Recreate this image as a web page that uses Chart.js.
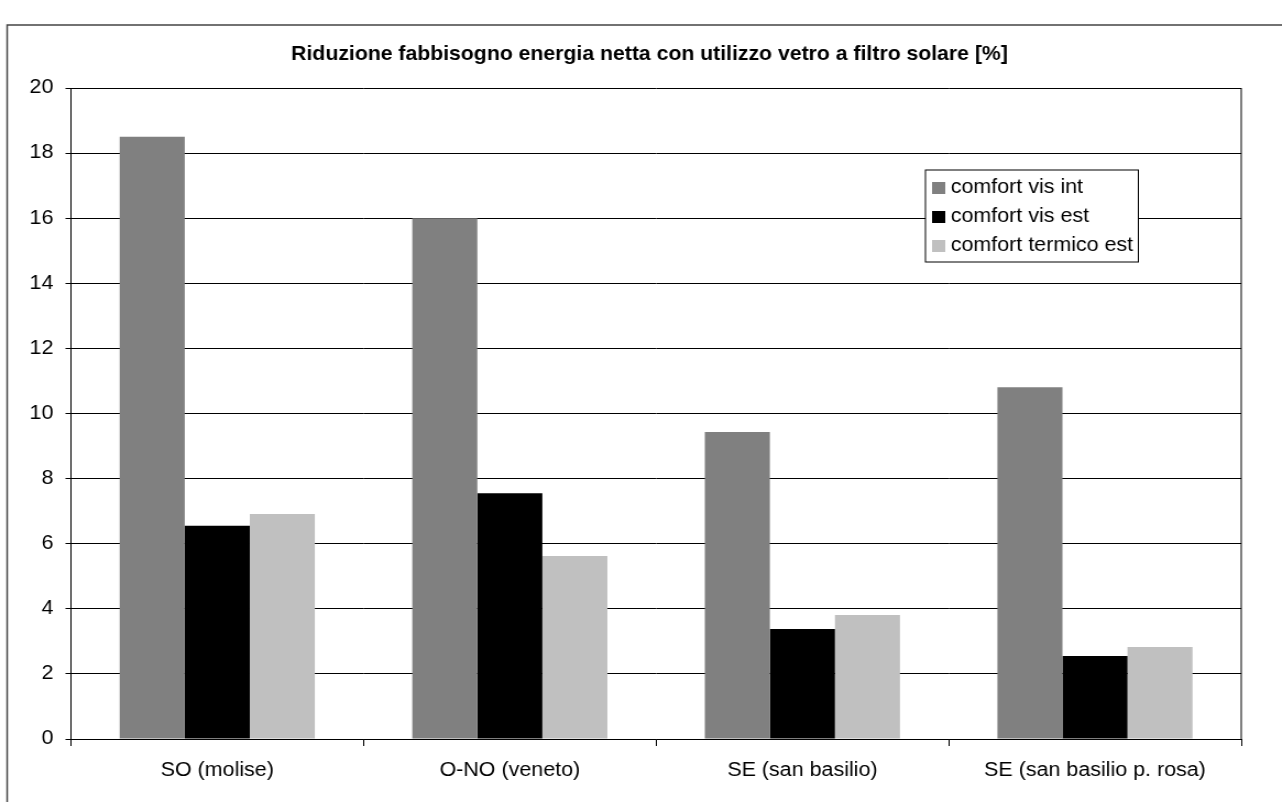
<!DOCTYPE html>
<html>
<head>
<meta charset="utf-8">
<script src="https://cdn.jsdelivr.net/npm/chart.js@4/dist/chart.umd.min.js"></script>
<style>
  html, body { margin: 0; padding: 0; background: #fff; overflow: hidden; }
  /* canvas is drawn a little narrower and stretched, like the reference */
  #wrap { width: 1165px; height: 802px; transform: scaleX(1.1004); transform-origin: 0 0; }
  #chart { display: block; }
</style>
</head>
<body>
<div id="wrap"><canvas id="chart" width="1165" height="802"></canvas></div>
<script>
// Chart data
const chartTitle = "Riduzione fabbisogno energia netta con utilizzo vetro a filtro solare [%]";
const categories = ["SO (molise)", "O-NO (veneto)", "SE (san basilio)", "SE (san basilio p. rosa)"];
const seriesNames = ["comfort vis int", "comfort vis est", "comfort termico est"];
const comfortVisInt = [18.5, 16.0, 9.43, 10.81];
const comfortVisEst = [6.55, 7.55, 3.38, 2.55];
const comfortTermicoEst = [6.91, 5.62, 3.81, 2.83];
const seriesColors = ["#808080", "#000000", "#c0c0c0"];
const yMin = 0;
const yMax = 20;
const yStep = 2;

const fontFamily = "'Liberation Sans', Arial, sans-serif";
const tickFont = { family: fontFamily, size: 19.5 };

// Frame, title, plot border and boxed legend
const decorPlugin = {
  id: "decor",
  afterDraw(chart) {
    const ctx = chart.ctx;
    const area = chart.chartArea;
    ctx.save();

    // outer frame
    ctx.strokeStyle = "#444";
    ctx.lineWidth = 1.5;
    ctx.strokeRect(6.5, 25, chart.width + 20, chart.height + 20);

    // plot area right edge
    ctx.strokeStyle = "#000";
    ctx.lineWidth = 1;
    ctx.beginPath();
    ctx.moveTo(area.right, area.top);
    ctx.lineTo(area.right, area.bottom);
    ctx.stroke();

    // title
    ctx.fillStyle = "#000";
    ctx.font = "bold 19.3px " + fontFamily;
    ctx.textAlign = "center";
    ctx.textBaseline = "middle";
    ctx.fillText(chartTitle, (area.left + area.right) / 2 - 6, 55);

    // legend
    const lx = 841, ly = 170, lw = 193.5, lh = 92;
    ctx.fillStyle = "#fff";
    ctx.fillRect(lx, ly, lw, lh);
    ctx.strokeStyle = "#000";
    ctx.strokeRect(lx, ly, lw, lh);
    ctx.font = "19.5px " + fontFamily;
    ctx.textAlign = "left";
    chart.data.datasets.forEach((ds, i) => {
      const cy = ly + 18 + i * 29;
      ctx.fillStyle = ds.backgroundColor;
      ctx.fillRect(lx + 6, cy - 6, 12, 12);
      ctx.fillStyle = "#000";
      ctx.fillText(ds.label, lx + 23, cy);
    });

    ctx.restore();
  }
};

const ctx = document.getElementById("chart").getContext("2d");

new Chart(ctx, {
  type: "bar",
  data: {
    labels: categories,
    datasets: [comfortVisInt, comfortVisEst, comfortTermicoEst].map((values, i) => ({
      label: seriesNames[i],
      data: values,
      backgroundColor: seriesColors[i],
      borderWidth: 0,
      categoryPercentage: 0.667,
      barPercentage: 1.0
    }))
  },
  options: {
    responsive: false,
    animation: false,
    devicePixelRatio: 1,
    layout: {
      padding: { left: 7, right: 37, top: 88, bottom: 0 }
    },
    plugins: {
      legend: { display: false },
      tooltip: { enabled: false },
      title: { display: false }
    },
    scales: {
      x: {
        grid: {
          offset: true,
          drawOnChartArea: false,
          color: "#000",
          tickLength: 7
        },
        border: { color: "#000", width: 1 },
        ticks: {
          color: "#000",
          font: tickFont,
          padding: 13,
          maxRotation: 0,
          autoSkip: false
        },
        afterFit(scale) {
          scale.height = 63;
        }
      },
      y: {
        min: yMin,
        max: yMax,
        ticks: {
          stepSize: yStep,
          color: "#000",
          font: tickFont,
          padding: 11
        },
        grid: {
          color: "#000",
          lineWidth: 1,
          tickLength: 5
        },
        border: { color: "#000", width: 1 },
        afterFit(scale) {
          scale.width = 57.5;
        }
      }
    }
  },
  plugins: [decorPlugin]
});
</script>
</body>
</html>
